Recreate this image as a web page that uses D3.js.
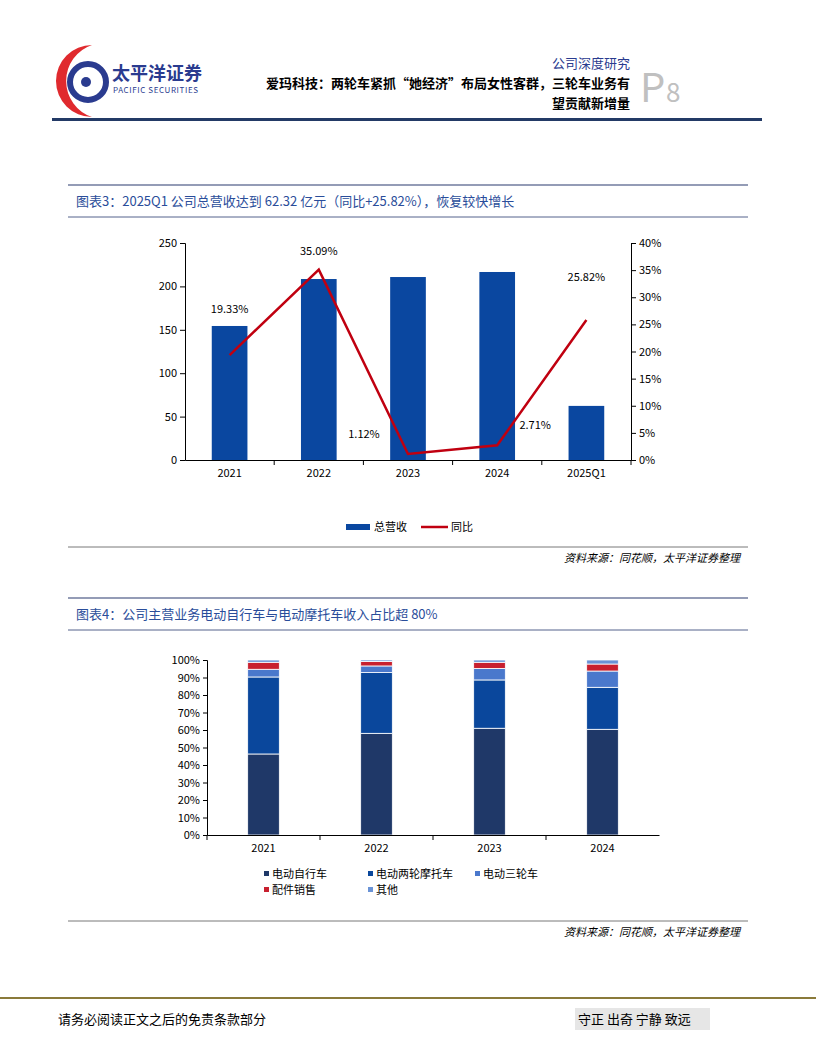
<!DOCTYPE html><html><head><meta charset="utf-8"><script src="https://cdn.jsdelivr.net/npm/d3@7"></script>
<style>body{margin:0;background:#fff}text{font-family:"Noto Sans CJK SC","Noto Sans",sans-serif}</style></head><body>
<svg id="s" width="816" height="1056"></svg>
<script>
const years1=["2021","2022","2023","2024","2025Q1"];
const revenue=[154.4,208.5,210.8,216.6,62.32];
const yoy=[19.33,35.09,1.12,2.71,25.82];
const yoyLabels=["19.33%","35.09%","1.12%","2.71%","25.82%"];
const leftTicks=[0,50,100,150,200,250];
const rightTicks=[0,5,10,15,20,25,30,35,40];
const years2=["2021","2022","2023","2024"];
const seriesNames=["电动自行车","电动两轮摩托车","电动三轮车","配件销售","其他"];
const ebike=[46.3,58.1,61.0,60.4];
const emoto=[44.0,34.7,27.6,24.0];
const etri=[4.4,3.8,6.6,9.3];
const parts=[4.0,2.6,3.5,4.0];
const other=[1.3,0.8,1.3,2.3];
const colors=["#1f3868","#0a479c","#4a78cc","#c8202f","#6a93d6"];

const svg=d3.select("#s");
const F='"Noto Sans CJK SC",sans-serif';
// header
const lg=svg.append("g");
lg.append("path").attr("d","M92,45 A38,38 0 0 0 92,117 A30,30 0 0 1 92,45 Z").attr("fill","#e02a2e");
lg.append("circle").attr("cx",88).attr("cy",82).attr("r",18).attr("fill","none").attr("stroke","#2a3b8f").attr("stroke-width",6);
lg.append("circle").attr("cx",86).attr("cy",82).attr("r",5).attr("fill","#2a3b8f");
svg.append("text").attr("x",112).attr("y",80).attr("font-size",18).attr("font-weight","bold").attr("fill","#2a3b8f").text("太平洋证券");
svg.append("text").attr("x",113).attr("y",93).attr("font-size",8).attr("fill","#2a3b8f").attr("font-family","DejaVu Sans").attr("letter-spacing",0.6).text("PACIFIC SECURITIES");
svg.append("text").attr("x",630).attr("y",68).attr("text-anchor","end").attr("font-size",13).attr("fill","#2a3b8f").text("公司深度研究");
svg.append("text").attr("x",630).attr("y",88).attr("text-anchor","end").attr("font-size",13).attr("font-weight","bold").text("爱玛科技：两轮车紧抓“她经济”布局女性客群，三轮车业务有");
svg.append("text").attr("x",630).attr("y",108).attr("text-anchor","end").attr("font-size",13).attr("font-weight","bold").text("望贡献新增量");
svg.append("text").attr("x",640).attr("y",102).attr("font-size",40).attr("fill","#c0c0c0").attr("font-family","Liberation Serif").text("P");
svg.append("text").attr("x",666).attr("y",102).attr("font-size",26).attr("fill","#c0c0c0").attr("font-family","Liberation Serif").text("8");
svg.append("rect").attr("x",52).attr("y",118).attr("width",710).attr("height",3).attr("fill","#233a66");

function titleBar(y,t){
  svg.append("line").attr("x1",68).attr("x2",748).attr("y1",y).attr("y2",y).attr("stroke","#2a3b6f").attr("stroke-width",1.2);
  svg.append("text").attr("x",76).attr("y",y+21).attr("font-size",13).attr("fill","#2a4d9a").text(t);
  svg.append("line").attr("x1",68).attr("x2",748).attr("y1",y+32).attr("y2",y+32).attr("stroke","#2a3b6f").attr("stroke-width",0.8);
}
function source(y){
  svg.append("line").attr("x1",68).attr("x2",748).attr("y1",y).attr("y2",y).attr("stroke","#555").attr("stroke-width",0.8);
  svg.append("text").attr("x",740).attr("y",y+15).attr("text-anchor","end").attr("font-size",11).attr("font-style","italic").text("资料来源：同花顺，太平洋证券整理");
}
titleBar(185,"图表3：2025Q1 公司总营收达到 62.32 亿元（同比+25.82%），恢复较快增长");
source(547);
titleBar(598,"图表4：公司主营业务电动自行车与电动摩托车收入占比超 80%");
source(921);

// chart1
const x1=d3.scaleBand().domain(years1).range([185,631]).paddingInner(0.6).paddingOuter(0.3);
const yl=d3.scaleLinear().domain([0,250]).range([460,243]);
const yr=d3.scaleLinear().domain([0,40]).range([460,243]);
const g1=svg.append("g");
g1.selectAll(".b").data(revenue).join("rect").attr("x",(d,i)=>x1(years1[i])).attr("width",x1.bandwidth()).attr("y",d=>yl(d)).attr("height",d=>460-yl(d)).attr("fill","#0a47a0");
const ax=g1.append("g").attr("transform","translate(0,460)").call(d3.axisBottom(x1).tickSize(0).tickPadding(9));
ax.selectAll(".tick").append("line").attr("x1",x1.step()/2).attr("x2",x1.step()/2).attr("y2",5).attr("stroke","#000");
const al=g1.append("g").attr("transform","translate(185,0)").call(d3.axisLeft(yl).tickValues(leftTicks).tickSize(5));
const ar=g1.append("g").attr("transform","translate(631,0)").call(d3.axisRight(yr).tickValues(rightTicks).tickSize(5).tickFormat(d=>d+"%"));
[ax,al,ar].forEach(a=>{a.selectAll("text").attr("font-size",11).attr("font-family",F);a.select(".domain").attr("stroke","#000");});
const cx=i=>x1(years1[i])+x1.bandwidth()/2;
g1.append("path").datum(yoy).attr("fill","none").attr("stroke","#c00010").attr("stroke-width",2.5).attr("d",d3.line().x((d,i)=>cx(i)).y(d=>yr(d)));
const lblOff=[[0,-42],[0,-15],[-44,-16],[38,-16],[0,-39]];
g1.selectAll(".l").data(yoyLabels).join("text").attr("x",(d,i)=>cx(i)+lblOff[i][0]).attr("y",(d,i)=>yr(yoy[i])+lblOff[i][1]).attr("text-anchor","middle").attr("font-size",11).text(d=>d);
// legend1
svg.append("rect").attr("x",346).attr("y",524).attr("width",24).attr("height",6).attr("fill","#0a47a0");
svg.append("text").attr("x",374).attr("y",531).attr("font-size",11).text("总营收");
svg.append("line").attr("x1",421).attr("x2",448).attr("y1",527).attr("y2",527).attr("stroke","#c00010").attr("stroke-width",2.5);
svg.append("text").attr("x",451).attr("y",531).attr("font-size",11).text("同比");

// chart2
const x2=d3.scaleBand().domain(years2).range([207,659]).paddingInner(0.72).paddingOuter(0.36);
const y2=d3.scaleLinear().domain([0,100]).range([835,660]);
const data=years2.map((y,i)=>({year:y,s0:ebike[i],s1:emoto[i],s2:etri[i],s3:parts[i],s4:other[i]}));
const st=d3.stack().keys(["s0","s1","s2","s3","s4"])(data);
const g2=svg.append("g");
st.forEach((layer,k)=>{
  g2.selectAll(".r"+k).data(layer).join("rect").attr("x",d=>x2(d.data.year)).attr("width",x2.bandwidth()).attr("y",d=>y2(d[1])).attr("height",d=>y2(d[0])-y2(d[1])).attr("fill",colors[k]).attr("stroke","#fff").attr("stroke-width",0.8);
});
const bx=g2.append("g").attr("transform","translate(0,835)").call(d3.axisBottom(x2).tickSize(0).tickPadding(9));
bx.selectAll(".tick").append("line").attr("x1",-x2.step()/2).attr("x2",-x2.step()/2).attr("y2",5).attr("stroke","#000");
const by=g2.append("g").attr("transform","translate(207,0)").call(d3.axisLeft(y2).ticks(10).tickSize(4).tickFormat(d=>d+"%"));
[bx,by].forEach(a=>{a.selectAll("text").attr("font-size",11).attr("font-family",F);a.select(".domain").attr("stroke","#000");});
// legend2
const lp=[[264,878],[368,878],[475,878],[264,894],[368,894]];
seriesNames.forEach((n,k)=>{
  svg.append("rect").attr("x",lp[k][0]).attr("y",lp[k][1]-7).attr("width",5).attr("height",5).attr("fill",colors[k]);
  svg.append("text").attr("x",lp[k][0]+8).attr("y",lp[k][1]).attr("font-size",11).text(n);
});

// footer
svg.append("rect").attr("x",0).attr("y",997).attr("width",816).attr("height",2).attr("fill","#8a7a3a");
svg.append("text").attr("x",58).attr("y",1024).attr("font-size",13).text("请务必阅读正文之后的免责条款部分");
svg.append("rect").attr("x",575).attr("y",1008).attr("width",135).attr("height",22).attr("fill","#e6e6e6");
svg.append("text").attr("x",578).attr("y",1024).attr("font-size",13).text("守正 出奇 宁静 致远");
</script></body></html>
